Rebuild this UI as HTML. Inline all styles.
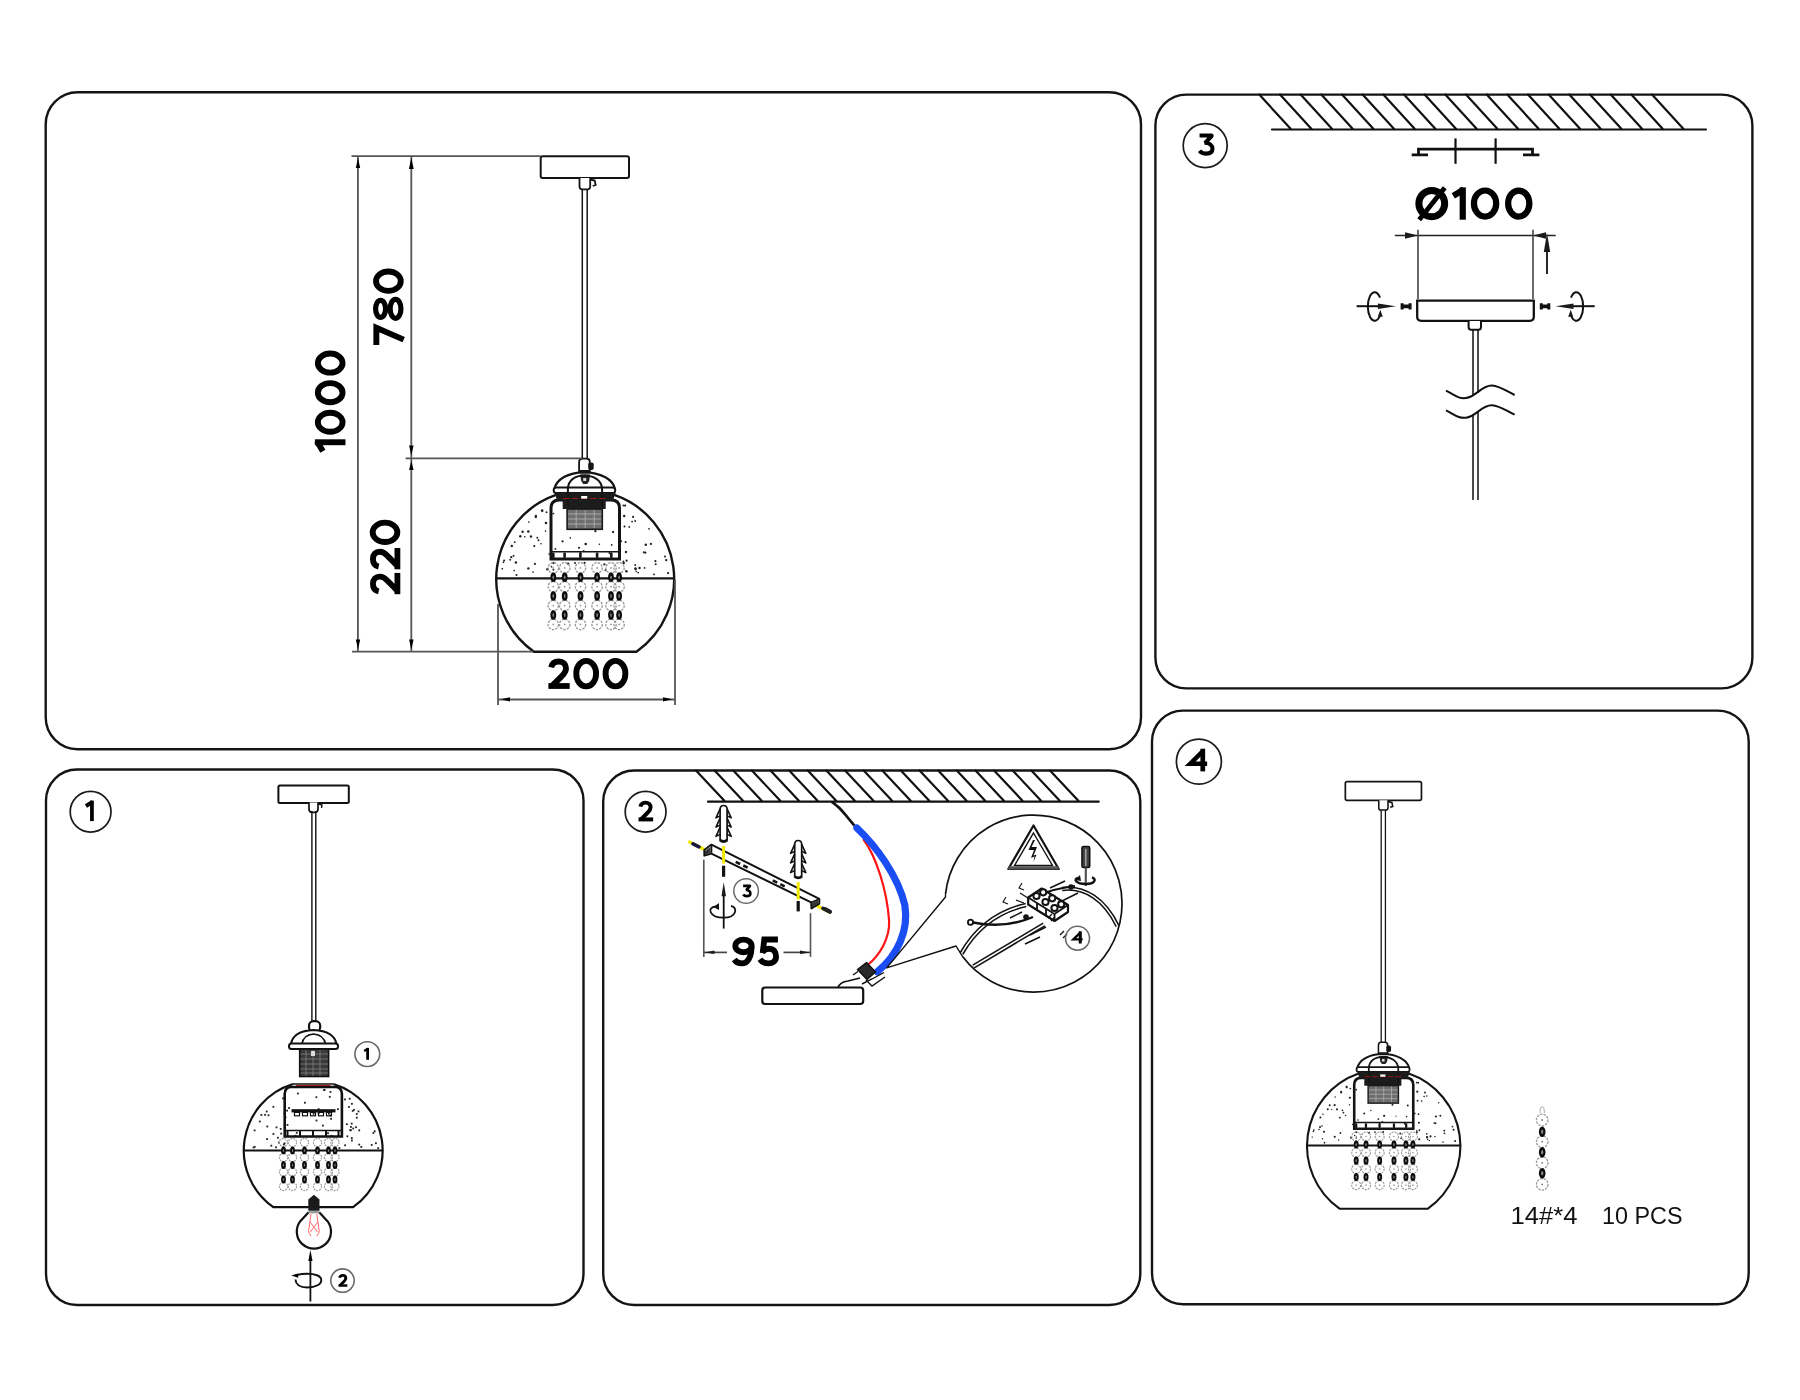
<!DOCTYPE html>
<html><head><meta charset="utf-8"><style>
html,body{margin:0;padding:0;background:#fff;width:1800px;height:1400px;overflow:hidden}
svg{display:block;will-change:transform}
text{font-family:"Liberation Sans",sans-serif}
</style></head><body>
<svg width="1800" height="1400" viewBox="0 0 1800 1400">
<defs><g id="lamp"><rect x="-44.5" y="-422.8" width="88.3" height="21.8" rx="2" fill="#fff" stroke="#141414" stroke-width="2"/><path d="M-5.7,-401 V-392.5 Q-5.7,-389.7 -3,-389.7 H2.3 Q5,-389.7 5,-392.5 V-401" fill="#fff" stroke="#141414" stroke-width="1.8"/><path d="M5,-399.5 L9.5,-398.5 L10.5,-394 L7.5,-393" fill="none" stroke="#141414" stroke-width="1.8"/><line x1="-2.9" y1="-389.7" x2="-2.9" y2="-120.4" stroke="#141414" stroke-width="1.5"/><line x1="2.0" y1="-389.7" x2="2.0" y2="-120.4" stroke="#141414" stroke-width="1.5"/><path d="M-6.1,-108 V-117 Q-6.1,-120.4 -3,-120.4 H1.5 Q4.6,-120.4 4.6,-117 V-108 Z" fill="#fff" stroke="#141414" stroke-width="1.8"/><rect x="3" y="-116.5" width="5.5" height="7.5" rx="2" fill="#141414"/><path d="M-29.1,-84.1 A89,89 0 0 0 -51.3,72.7 L51.3,72.7 A89,89 0 0 0 29.1,-84.1" fill="none" stroke="#141414" stroke-width="2.4"/><line x1="-88.5" y1="-0.6" x2="88.5" y2="-0.6" stroke="#141414" stroke-width="2.2"/><circle cx="-54.2" cy="-42.5" r="1.20" fill="#222"/><circle cx="22.3" cy="-19.8" r="1.00" fill="#222"/><circle cx="82.9" cy="-5.9" r="1.16" fill="#222"/><circle cx="26.5" cy="-34.1" r="0.93" fill="#222"/><circle cx="27.9" cy="-47.0" r="1.16" fill="#222"/><circle cx="58.5" cy="-26.7" r="0.96" fill="#222"/><circle cx="-31.8" cy="-65.4" r="0.97" fill="#222"/><circle cx="-73.9" cy="-21.9" r="1.18" fill="#222"/><circle cx="-17.1" cy="-15.4" r="1.22" fill="#222"/><circle cx="-73.4" cy="-33.0" r="1.21" fill="#222"/><circle cx="47.9" cy="-62.1" r="1.08" fill="#222"/><circle cx="79.8" cy="-22.6" r="1.01" fill="#222"/><circle cx="10.2" cy="-47.8" r="1.15" fill="#222"/><circle cx="39.9" cy="-73.4" r="1.11" fill="#222"/><circle cx="-49.4" cy="-62.1" r="1.22" fill="#222"/><circle cx="81.0" cy="-18.9" r="1.20" fill="#222"/><circle cx="-33.7" cy="-12.3" r="0.86" fill="#222"/><circle cx="-68.7" cy="-3.9" r="0.99" fill="#222"/><circle cx="-49.3" cy="-63.1" r="1.13" fill="#222"/><circle cx="46.9" cy="-57.4" r="0.92" fill="#222"/><circle cx="-70.5" cy="-36.8" r="0.89" fill="#222"/><circle cx="-44.2" cy="-35.3" r="0.81" fill="#222"/><circle cx="70.2" cy="-17.8" r="1.09" fill="#222"/><circle cx="-43.1" cy="-68.6" r="1.27" fill="#222"/><circle cx="41.2" cy="-7.8" r="1.29" fill="#222"/><circle cx="-52.2" cy="-7.0" r="0.87" fill="#222"/><circle cx="65.7" cy="-35.1" r="1.14" fill="#222"/><circle cx="-13.5" cy="-75.6" r="1.01" fill="#222"/><circle cx="16.6" cy="-60.2" r="1.12" fill="#222"/><circle cx="-46.7" cy="-38.7" r="1.00" fill="#222"/><circle cx="60.6" cy="-34.2" r="1.27" fill="#222"/><circle cx="-37.8" cy="-9.7" r="1.29" fill="#222"/><circle cx="-39.7" cy="-47.9" r="0.82" fill="#222"/><circle cx="-22.6" cy="-37.7" r="1.16" fill="#222"/><circle cx="-82.9" cy="-10.3" r="0.86" fill="#222"/><circle cx="34.6" cy="-6.0" r="0.82" fill="#222"/><circle cx="-31.1" cy="-3.1" r="0.94" fill="#222"/><circle cx="40.8" cy="-27.0" r="1.17" fill="#222"/><circle cx="50.4" cy="-9.9" r="1.30" fill="#222"/><circle cx="63.8" cy="-50.2" r="0.86" fill="#222"/><circle cx="50.0" cy="-14.1" r="0.97" fill="#222"/><circle cx="14.2" cy="-34.7" r="0.81" fill="#222"/><circle cx="39.3" cy="-52.5" r="1.07" fill="#222"/><circle cx="40.4" cy="-36.9" r="1.04" fill="#222"/><circle cx="-10.2" cy="-16.1" r="0.99" fill="#222"/><circle cx="-71.6" cy="-23.2" r="0.95" fill="#222"/><circle cx="-34.2" cy="-29.1" r="1.20" fill="#222"/><circle cx="-56.8" cy="-10.6" r="1.22" fill="#222"/><circle cx="-29.8" cy="-30.1" r="0.94" fill="#222"/><circle cx="14.3" cy="-58.4" r="1.00" fill="#222"/><circle cx="-0.6" cy="-16.2" r="1.11" fill="#222"/><circle cx="60.0" cy="-26.4" r="1.18" fill="#222"/><circle cx="-56.9" cy="-47.5" r="1.29" fill="#222"/><circle cx="-38.7" cy="-66.7" r="0.99" fill="#222"/><circle cx="-31.8" cy="-16.0" r="1.15" fill="#222"/><circle cx="35.9" cy="-37.8" r="1.07" fill="#222"/><circle cx="-62.6" cy="-47.2" r="1.20" fill="#222"/><circle cx="-81.7" cy="-16.8" r="0.87" fill="#222"/><circle cx="52.9" cy="-6.4" r="0.89" fill="#222"/><circle cx="-4.8" cy="-26.2" r="0.85" fill="#222"/><circle cx="-39.2" cy="-56.0" r="1.27" fill="#222"/><circle cx="44.1" cy="-52.1" r="0.93" fill="#222"/><circle cx="50.2" cy="-10.6" r="1.04" fill="#222"/><circle cx="-71.0" cy="-8.5" r="0.86" fill="#222"/><circle cx="38.2" cy="-73.5" r="0.96" fill="#222"/><circle cx="51.0" cy="-7.5" r="0.81" fill="#222"/><circle cx="-6.2" cy="-31.2" r="1.08" fill="#222"/><circle cx="38.2" cy="-17.7" r="0.87" fill="#222"/><circle cx="24.4" cy="-25.9" r="1.11" fill="#222"/><circle cx="68.8" cy="-4.6" r="0.94" fill="#222"/><circle cx="50.0" cy="-58.0" r="0.91" fill="#222"/><circle cx="70.5" cy="-14.7" r="1.04" fill="#222"/><circle cx="-81.1" cy="-18.5" r="0.98" fill="#222"/><circle cx="-75.0" cy="-19.2" r="0.93" fill="#222"/><circle cx="-56.3" cy="-56.9" r="0.83" fill="#222"/><circle cx="-60.4" cy="-42.2" r="0.83" fill="#222"/><circle cx="38.5" cy="-16.0" r="1.25" fill="#222"/><circle cx="-47.9" cy="-41.3" r="0.95" fill="#222"/><circle cx="-36.1" cy="-25.0" r="0.84" fill="#222"/><circle cx="59.4" cy="-11.1" r="0.89" fill="#222"/><circle cx="-50.2" cy="-15.1" r="1.04" fill="#222"/><circle cx="0.5" cy="-35.0" r="1.30" fill="#222"/><circle cx="-1.5" cy="-28.0" r="0.90" fill="#222"/><circle cx="54.3" cy="-11.1" r="1.23" fill="#222"/><circle cx="-4.0" cy="-58.3" r="1.04" fill="#222"/><circle cx="20.3" cy="-9.1" r="1.01" fill="#222"/><circle cx="-64.9" cy="-42.7" r="1.20" fill="#222"/><circle cx="-42.9" cy="-68.0" r="1.00" fill="#222"/><circle cx="-14.9" cy="-41.1" r="0.83" fill="#222"/><circle cx="-50.9" cy="-32.9" r="1.08" fill="#222"/><circle cx="19.2" cy="-14.6" r="1.13" fill="#222"/><circle cx="41.4" cy="-18.3" r="1.11" fill="#222"/><circle cx="-31.8" cy="-9.3" r="0.94" fill="#222"/><circle cx="39.0" cy="-63.0" r="1.27" fill="#222"/><circle cx="-69.3" cy="-16.6" r="1.23" fill="#222"/><path d="M-30.9,-89.6 C-29,-100 -17,-106.5 -0.9,-106.7 C15,-106.5 28,-100 29.9,-89.6" fill="#fff" stroke="#141414" stroke-width="2.2"/><rect x="-31.5" y="-91.6" width="61.5" height="5.6" rx="2.5" fill="#fff" stroke="#141414" stroke-width="2"/><path d="M-5,-104.5 L5,-104.5 L4,-98 L2,-95 L-2,-95 L-4,-98 Z" fill="#222"/><rect x="-2" y="-101" width="3" height="3" fill="#ddd"/><path d="M-34.2,-20 V-71 Q-34.2,-79 -26,-79 H26 Q34.3,-79 34.3,-71 V-20 Z" fill="none" stroke="#141414" stroke-width="3"/><line x1="-34" y1="-27.3" x2="34" y2="-27.3" stroke="#141414" stroke-width="1.6"/><rect x="-33.2" y="-26.5" width="2.6" height="5.5" rx="1" fill="#141414"/><rect x="-21.9" y="-26.5" width="2.6" height="5.5" rx="1" fill="#141414"/><rect x="-6.1" y="-26.5" width="2.6" height="5.5" rx="1" fill="#141414"/><rect x="10.6" y="-26.5" width="2.6" height="5.5" rx="1" fill="#141414"/><rect x="24.8" y="-26.5" width="2.6" height="5.5" rx="1" fill="#141414"/><path d="M-30.5,-86 H30.3 L28,-79 H20.5 V-70 H-22.5 V-79 H-28.3 Z" fill="#1c1c1c"/><path d="M-17.3,-73 V-90 C-17,-99 -10,-103.5 -0.9,-103.5 C8,-103.5 16.5,-99 16.9,-90 V-73" fill="none" stroke="#141414" stroke-width="2"/><line x1="-22" y1="-80.5" x2="20" y2="-80.5" stroke="#b01818" stroke-width="0.9" stroke-dasharray="6 3"/><rect x="-4" y="-83" width="6" height="2.6" fill="#fff"/><rect x="-18.1" y="-70" width="35.2" height="20.3" fill="#6e6e6e" stroke="#1a1a1a" stroke-width="1.6"/><line x1="-17" y1="-65" x2="16" y2="-65" stroke="#b8b8b8" stroke-width="0.8"/><line x1="-17" y1="-60" x2="16" y2="-60" stroke="#b8b8b8" stroke-width="0.8"/><line x1="-17" y1="-55" x2="16" y2="-55" stroke="#b8b8b8" stroke-width="0.8"/><line x1="-9" y1="-69" x2="-9" y2="-51" stroke="#b8b8b8" stroke-width="0.8"/><line x1="0" y1="-69" x2="0" y2="-51" stroke="#b8b8b8" stroke-width="0.8"/><line x1="9" y1="-69" x2="9" y2="-51" stroke="#b8b8b8" stroke-width="0.8"/><circle cx="-31.9" cy="-11.1" r="5.2" fill="none" stroke="#999" stroke-width="1.3" stroke-dasharray="2.4 1.1"/><circle cx="-31.9" cy="-11.1" r="0.9" fill="#999"/><circle cx="-31.9" cy="7.7" r="5.2" fill="none" stroke="#999" stroke-width="1.3" stroke-dasharray="2.4 1.1"/><circle cx="-31.9" cy="7.7" r="0.9" fill="#999"/><circle cx="-31.9" cy="26.6" r="5.2" fill="none" stroke="#999" stroke-width="1.3" stroke-dasharray="2.4 1.1"/><circle cx="-31.9" cy="26.6" r="0.9" fill="#999"/><circle cx="-31.9" cy="45.4" r="5.2" fill="none" stroke="#999" stroke-width="1.3" stroke-dasharray="2.4 1.1"/><circle cx="-31.9" cy="45.4" r="0.9" fill="#999"/><ellipse cx="-31.9" cy="-1.7" rx="2.9" ry="4.7" fill="#0c0c0c"/><ellipse cx="-31.9" cy="-1.7" rx="0.9" ry="1.9" fill="#7a7a7a"/><ellipse cx="-31.9" cy="17" rx="2.9" ry="4.7" fill="#0c0c0c"/><ellipse cx="-31.9" cy="17" rx="0.9" ry="1.9" fill="#7a7a7a"/><ellipse cx="-31.9" cy="36" rx="2.9" ry="4.7" fill="#0c0c0c"/><ellipse cx="-31.9" cy="36" rx="0.9" ry="1.9" fill="#7a7a7a"/><circle cx="-20.5" cy="-11.1" r="5.2" fill="none" stroke="#999" stroke-width="1.3" stroke-dasharray="2.4 1.1"/><circle cx="-20.5" cy="-11.1" r="0.9" fill="#999"/><circle cx="-20.5" cy="7.7" r="5.2" fill="none" stroke="#999" stroke-width="1.3" stroke-dasharray="2.4 1.1"/><circle cx="-20.5" cy="7.7" r="0.9" fill="#999"/><circle cx="-20.5" cy="26.6" r="5.2" fill="none" stroke="#999" stroke-width="1.3" stroke-dasharray="2.4 1.1"/><circle cx="-20.5" cy="26.6" r="0.9" fill="#999"/><circle cx="-20.5" cy="45.4" r="5.2" fill="none" stroke="#999" stroke-width="1.3" stroke-dasharray="2.4 1.1"/><circle cx="-20.5" cy="45.4" r="0.9" fill="#999"/><ellipse cx="-20.5" cy="-1.7" rx="2.9" ry="4.7" fill="#0c0c0c"/><ellipse cx="-20.5" cy="-1.7" rx="0.9" ry="1.9" fill="#7a7a7a"/><ellipse cx="-20.5" cy="17" rx="2.9" ry="4.7" fill="#0c0c0c"/><ellipse cx="-20.5" cy="17" rx="0.9" ry="1.9" fill="#7a7a7a"/><ellipse cx="-20.5" cy="36" rx="2.9" ry="4.7" fill="#0c0c0c"/><ellipse cx="-20.5" cy="36" rx="0.9" ry="1.9" fill="#7a7a7a"/><circle cx="-4.7" cy="-11.1" r="5.2" fill="none" stroke="#999" stroke-width="1.3" stroke-dasharray="2.4 1.1"/><circle cx="-4.7" cy="-11.1" r="0.9" fill="#999"/><circle cx="-4.7" cy="7.7" r="5.2" fill="none" stroke="#999" stroke-width="1.3" stroke-dasharray="2.4 1.1"/><circle cx="-4.7" cy="7.7" r="0.9" fill="#999"/><circle cx="-4.7" cy="26.6" r="5.2" fill="none" stroke="#999" stroke-width="1.3" stroke-dasharray="2.4 1.1"/><circle cx="-4.7" cy="26.6" r="0.9" fill="#999"/><circle cx="-4.7" cy="45.4" r="5.2" fill="none" stroke="#999" stroke-width="1.3" stroke-dasharray="2.4 1.1"/><circle cx="-4.7" cy="45.4" r="0.9" fill="#999"/><ellipse cx="-4.7" cy="-1.7" rx="2.9" ry="4.7" fill="#0c0c0c"/><ellipse cx="-4.7" cy="-1.7" rx="0.9" ry="1.9" fill="#7a7a7a"/><ellipse cx="-4.7" cy="17" rx="2.9" ry="4.7" fill="#0c0c0c"/><ellipse cx="-4.7" cy="17" rx="0.9" ry="1.9" fill="#7a7a7a"/><ellipse cx="-4.7" cy="36" rx="2.9" ry="4.7" fill="#0c0c0c"/><ellipse cx="-4.7" cy="36" rx="0.9" ry="1.9" fill="#7a7a7a"/><circle cx="11.9" cy="-11.1" r="5.2" fill="none" stroke="#999" stroke-width="1.3" stroke-dasharray="2.4 1.1"/><circle cx="11.9" cy="-11.1" r="0.9" fill="#999"/><circle cx="11.9" cy="7.7" r="5.2" fill="none" stroke="#999" stroke-width="1.3" stroke-dasharray="2.4 1.1"/><circle cx="11.9" cy="7.7" r="0.9" fill="#999"/><circle cx="11.9" cy="26.6" r="5.2" fill="none" stroke="#999" stroke-width="1.3" stroke-dasharray="2.4 1.1"/><circle cx="11.9" cy="26.6" r="0.9" fill="#999"/><circle cx="11.9" cy="45.4" r="5.2" fill="none" stroke="#999" stroke-width="1.3" stroke-dasharray="2.4 1.1"/><circle cx="11.9" cy="45.4" r="0.9" fill="#999"/><ellipse cx="11.9" cy="-1.7" rx="2.9" ry="4.7" fill="#0c0c0c"/><ellipse cx="11.9" cy="-1.7" rx="0.9" ry="1.9" fill="#7a7a7a"/><ellipse cx="11.9" cy="17" rx="2.9" ry="4.7" fill="#0c0c0c"/><ellipse cx="11.9" cy="17" rx="0.9" ry="1.9" fill="#7a7a7a"/><ellipse cx="11.9" cy="36" rx="2.9" ry="4.7" fill="#0c0c0c"/><ellipse cx="11.9" cy="36" rx="0.9" ry="1.9" fill="#7a7a7a"/><circle cx="25.8" cy="-11.1" r="5.2" fill="none" stroke="#999" stroke-width="1.3" stroke-dasharray="2.4 1.1"/><circle cx="25.8" cy="-11.1" r="0.9" fill="#999"/><circle cx="25.8" cy="7.7" r="5.2" fill="none" stroke="#999" stroke-width="1.3" stroke-dasharray="2.4 1.1"/><circle cx="25.8" cy="7.7" r="0.9" fill="#999"/><circle cx="25.8" cy="26.6" r="5.2" fill="none" stroke="#999" stroke-width="1.3" stroke-dasharray="2.4 1.1"/><circle cx="25.8" cy="26.6" r="0.9" fill="#999"/><circle cx="25.8" cy="45.4" r="5.2" fill="none" stroke="#999" stroke-width="1.3" stroke-dasharray="2.4 1.1"/><circle cx="25.8" cy="45.4" r="0.9" fill="#999"/><ellipse cx="25.8" cy="-1.7" rx="2.9" ry="4.7" fill="#0c0c0c"/><ellipse cx="25.8" cy="-1.7" rx="0.9" ry="1.9" fill="#7a7a7a"/><ellipse cx="25.8" cy="17" rx="2.9" ry="4.7" fill="#0c0c0c"/><ellipse cx="25.8" cy="17" rx="0.9" ry="1.9" fill="#7a7a7a"/><ellipse cx="25.8" cy="36" rx="2.9" ry="4.7" fill="#0c0c0c"/><ellipse cx="25.8" cy="36" rx="0.9" ry="1.9" fill="#7a7a7a"/><circle cx="33.9" cy="-11.1" r="5.2" fill="none" stroke="#999" stroke-width="1.3" stroke-dasharray="2.4 1.1"/><circle cx="33.9" cy="-11.1" r="0.9" fill="#999"/><circle cx="33.9" cy="7.7" r="5.2" fill="none" stroke="#999" stroke-width="1.3" stroke-dasharray="2.4 1.1"/><circle cx="33.9" cy="7.7" r="0.9" fill="#999"/><circle cx="33.9" cy="26.6" r="5.2" fill="none" stroke="#999" stroke-width="1.3" stroke-dasharray="2.4 1.1"/><circle cx="33.9" cy="26.6" r="0.9" fill="#999"/><circle cx="33.9" cy="45.4" r="5.2" fill="none" stroke="#999" stroke-width="1.3" stroke-dasharray="2.4 1.1"/><circle cx="33.9" cy="45.4" r="0.9" fill="#999"/><ellipse cx="33.9" cy="-1.7" rx="2.9" ry="4.7" fill="#0c0c0c"/><ellipse cx="33.9" cy="-1.7" rx="0.9" ry="1.9" fill="#7a7a7a"/><ellipse cx="33.9" cy="17" rx="2.9" ry="4.7" fill="#0c0c0c"/><ellipse cx="33.9" cy="17" rx="0.9" ry="1.9" fill="#7a7a7a"/><ellipse cx="33.9" cy="36" rx="2.9" ry="4.7" fill="#0c0c0c"/><ellipse cx="33.9" cy="36" rx="0.9" ry="1.9" fill="#7a7a7a"/></g></defs>
<rect x="45.7" y="92.3" width="1095.3" height="657.0" rx="32" ry="32" fill="none" stroke="#141414" stroke-width="2.4"/>
<rect x="1155.4" y="94.6" width="597.0" height="593.8" rx="31" ry="31" fill="none" stroke="#141414" stroke-width="2.4"/>
<rect x="46" y="769.5" width="537.5" height="535.5" rx="31" ry="31" fill="none" stroke="#141414" stroke-width="2.4"/>
<rect x="603.2" y="770.5" width="537.1" height="534.5" rx="31" ry="31" fill="none" stroke="#141414" stroke-width="2.4"/>
<rect x="1152" y="710.6" width="596.7" height="593.7" rx="31" ry="31" fill="none" stroke="#141414" stroke-width="2.4"/>
<use href="#lamp" transform="translate(585.2,579)"/>
<line x1="351.5" y1="156.2" x2="540.7" y2="156.2" stroke="#555555" stroke-width="1.8" />
<line x1="357.9" y1="156.5" x2="357.9" y2="651.5" stroke="#555555" stroke-width="1.8" />
<line x1="411.3" y1="156.5" x2="411.3" y2="651.5" stroke="#555555" stroke-width="1.8" />
<line x1="405.6" y1="458.3" x2="582" y2="458.3" stroke="#555555" stroke-width="1.8" />
<line x1="352" y1="651.6" x2="533" y2="651.6" stroke="#555555" stroke-width="1.8" />
<line x1="498" y1="604" x2="498" y2="705" stroke="#555555" stroke-width="1.8" />
<line x1="675" y1="580" x2="675" y2="705" stroke="#555555" stroke-width="1.8" />
<line x1="498" y1="699.5" x2="675" y2="699.5" stroke="#555555" stroke-width="1.8" />
<path d="M358.0,158.0 L360.2,168.0 L355.8,168.0 Z" fill="#000"/>
<path d="M358.0,649.5 L355.8,639.5 L360.2,639.5 Z" fill="#000"/>
<path d="M411.3,158.0 L413.7,169.0 L408.9,169.0 Z" fill="#000"/>
<path d="M411.3,455.5 L409.1,445.5 L413.6,445.5 Z" fill="#000"/>
<path d="M411.3,461.0 L413.6,470.0 L409.1,470.0 Z" fill="#000"/>
<path d="M411.3,649.5 L409.1,639.5 L413.6,639.5 Z" fill="#000"/>
<path d="M501.0,699.3 L510.0,697.2 L510.0,701.4 Z" fill="#000"/>
<path d="M672.0,699.3 L663.0,701.4 L663.0,697.2 Z" fill="#000"/>
<g transform="translate(345.5,452.6) rotate(-90) scale(1.0000,1.0000)" fill="none" stroke="#000" stroke-width="5.9" stroke-linejoin="miter"><g transform="translate(0.00,0)"><path d="M10.35,-30.6 V0"/><path d="M11.35,-28.6 L1.4,-22.6" stroke-width="6.0"/></g><g transform="translate(17.87,0)"><path d="M2.95,-15.30 A9.55,12.35 0 1 0 22.05,-15.30 A9.55,12.35 0 1 0 2.95,-15.30 Z"/></g><g transform="translate(47.44,0)"><path d="M2.95,-15.30 A9.55,12.35 0 1 0 22.05,-15.30 A9.55,12.35 0 1 0 2.95,-15.30 Z"/></g><g transform="translate(77.01,0)"><path d="M2.95,-15.30 A9.55,12.35 0 1 0 22.05,-15.30 A9.55,12.35 0 1 0 2.95,-15.30 Z"/></g></g>
<g transform="translate(403.7,345) rotate(-90) scale(1.0000,1.0000)" fill="none" stroke="#000" stroke-width="5.9" stroke-linejoin="miter"><g transform="translate(0.00,0)"><path d="M0,-27.35 L17.2,-27.35 L5.4,0"/></g><g transform="translate(23.95,0)"><path d="M3.75,-23.10 A8.50,5.00 0 1 0 20.75,-23.10 A8.50,5.00 0 1 0 3.75,-23.10 Z M2.75,-8.15 A9.50,5.40 0 1 0 21.75,-8.15 A9.50,5.40 0 1 0 2.75,-8.15 Z" stroke-width="5.2"/></g><g transform="translate(51.20,0)"><path d="M2.95,-15.30 A9.70,12.35 0 1 0 22.35,-15.30 A9.70,12.35 0 1 0 2.95,-15.30 Z"/></g></g>
<g transform="translate(400.3,594.8) rotate(-90) scale(1.0000,1.0000)" fill="none" stroke="#000" stroke-width="5.9" stroke-linejoin="miter"><g transform="translate(0.00,0)"><path d="M3.4,-21.6 C4.4,-26.2 7.6,-27.35 11.0,-27.35 C15.4,-27.35 18.2,-24.6 18.2,-20.6 C18.2,-17.4 16.8,-15.4 13.8,-12.6 L3.8,-2.6" stroke-linejoin="round"/><rect x="0.6" y="-5.8" width="21.3" height="5.8" fill="#000" stroke="none"/></g><g transform="translate(24.90,0)"><path d="M3.4,-21.6 C4.4,-26.2 7.6,-27.35 11.0,-27.35 C15.4,-27.35 18.2,-24.6 18.2,-20.6 C18.2,-17.4 16.8,-15.4 13.8,-12.6 L3.8,-2.6" stroke-linejoin="round"/><rect x="0.6" y="-5.8" width="21.3" height="5.8" fill="#000" stroke="none"/></g><g transform="translate(49.80,0)"><path d="M2.95,-15.30 A9.70,12.35 0 1 0 22.35,-15.30 A9.70,12.35 0 1 0 2.95,-15.30 Z"/></g></g>
<g transform="translate(547.8,688.9) scale(1.0000,1.0000)" fill="none" stroke="#000" stroke-width="5.9" stroke-linejoin="miter"><g transform="translate(0.00,0)"><path d="M3.4,-21.6 C4.4,-26.2 7.6,-27.35 11.0,-27.35 C15.4,-27.35 18.2,-24.6 18.2,-20.6 C18.2,-17.4 16.8,-15.4 13.8,-12.6 L3.8,-2.6" stroke-linejoin="round"/><rect x="0.6" y="-5.8" width="21.3" height="5.8" fill="#000" stroke="none"/></g><g transform="translate(25.55,0)"><path d="M2.95,-15.30 A9.88,12.35 0 1 0 22.70,-15.30 A9.88,12.35 0 1 0 2.95,-15.30 Z"/></g><g transform="translate(54.85,0)"><path d="M2.95,-15.30 A9.88,12.35 0 1 0 22.70,-15.30 A9.88,12.35 0 1 0 2.95,-15.30 Z"/></g></g>
<circle cx="1205.2" cy="145.6" r="22" fill="none" stroke="#1a1a1a" stroke-width="1.7"/>
<g transform="translate(1197.9,156.1) scale(0.7549,0.7549)" fill="none" stroke="#000" stroke-width="5.4" stroke-linejoin="miter"><g transform="translate(0.00,0)"><path d="M2.2,-27.35 L17.6,-27.35 Q18.6,-27.35 18.0,-26.5 L9.4,-17.2"/><path d="M8.6,-17.6 C15.6,-17.8 19.3,-14.2 19.3,-9.6 C19.3,-4.8 15.4,-3.25 11.0,-3.25 C7.2,-3.25 4.2,-4.6 2.2,-7.2"/></g></g>
<circle cx="90.6" cy="811.7" r="20.4" fill="none" stroke="#1a1a1a" stroke-width="1.7"/>
<g transform="translate(85,821.1) scale(0.6699,0.6699)" fill="none" stroke="#000" stroke-width="5.6" stroke-linejoin="miter"><g transform="translate(0.00,0)"><path d="M10.35,-30.6 V0"/><path d="M11.35,-28.6 L1.4,-22.6" stroke-width="6.0"/></g></g>
<circle cx="645.6" cy="811.7" r="20.4" fill="none" stroke="#1a1a1a" stroke-width="1.7"/>
<g transform="translate(638.1,821.4) scale(0.6863,0.6863)" fill="none" stroke="#000" stroke-width="5.8" stroke-linejoin="miter"><g transform="translate(0.00,0)"><path d="M3.4,-21.6 C4.4,-26.2 7.6,-27.35 11.0,-27.35 C15.4,-27.35 18.2,-24.6 18.2,-20.6 C18.2,-17.4 16.8,-15.4 13.8,-12.6 L3.8,-2.6" stroke-linejoin="round"/><rect x="0.6" y="-5.8" width="21.3" height="5.8" fill="#000" stroke="none"/></g></g>
<circle cx="1198.9" cy="761.6" r="22.5" fill="none" stroke="#1a1a1a" stroke-width="1.7"/>
<g transform="translate(1187.5,771.4) scale(0.7418,0.7418)" fill="none" stroke="#000" stroke-width="6.4" stroke-linejoin="miter"><g transform="translate(0.00,0)"><path d="M20.6,-30.6 V0"/><path d="M21.5,-28.0 L3.5,-10.2 L26.5,-10.2" stroke-width="6.0"/></g></g>
<path d="M1259.3,94.6 L1291.3,129.5 M1280.0,94.6 L1312.0,129.5 M1300.6,94.6 L1332.6,129.5 M1321.3,94.6 L1353.3,129.5 M1342.0,94.6 L1374.0,129.5 M1362.6,94.6 L1394.6,129.5 M1383.3,94.6 L1415.3,129.5 M1404.0,94.6 L1436.0,129.5 M1424.6,94.6 L1456.6,129.5 M1445.3,94.6 L1477.3,129.5 M1466.0,94.6 L1498.0,129.5 M1486.7,94.6 L1518.7,129.5 M1507.3,94.6 L1539.3,129.5 M1528.0,94.6 L1560.0,129.5 M1548.7,94.6 L1580.7,129.5 M1569.3,94.6 L1601.3,129.5 M1590.0,94.6 L1622.0,129.5 M1610.7,94.6 L1642.7,129.5 M1631.3,94.6 L1663.3,129.5 M1652.0,94.6 L1684.0,129.5 M1272,129.5 L1706,129.5" fill="none" stroke="#111" stroke-width="2.2" stroke-linecap="round"/>
<path d="M1411.7,154.8 H1428 M1418.5,155 V149.2 H1532.5 V155 M1523,154.8 H1539.4" fill="none" stroke="#111" stroke-width="2.8"/>
<line x1="1455.5" y1="138.4" x2="1455.5" y2="163.8" stroke="#111" stroke-width="2.2" />
<line x1="1495.6" y1="138.4" x2="1495.6" y2="163.8" stroke="#111" stroke-width="2.2" />
<g transform="translate(1415.4,219.7) scale(1.0556,1.0556)" fill="none" stroke="#000" stroke-width="5.9" stroke-linejoin="miter"><g transform="translate(0.00,0)"><path d="M3.25,-15.30 A12.25,12.45 0 1 0 27.75,-15.30 A12.25,12.45 0 1 0 3.25,-15.30 Z" stroke-width="6.6"/><path d="M3.6,0.0 L27.8,-30.2" stroke-width="4.6"/></g><g transform="translate(34.50,0)"><path d="M10.35,-30.6 V0"/><path d="M11.35,-28.6 L1.4,-22.6" stroke-width="6.0"/></g><g transform="translate(52.50,0)"><path d="M2.95,-15.30 A10.55,12.35 0 1 0 24.05,-15.30 A10.55,12.35 0 1 0 2.95,-15.30 Z"/></g><g transform="translate(84.90,0)"><path d="M2.95,-15.30 A10.05,12.35 0 1 0 23.05,-15.30 A10.05,12.35 0 1 0 2.95,-15.30 Z"/></g></g>
<line x1="1394.8" y1="235.5" x2="1555.7" y2="235.5" stroke="#222" stroke-width="1.6" />
<path d="M1418.0,235.5 L1405.0,238.8 L1405.0,232.2 Z" fill="#1a1a1a"/>
<path d="M1533.0,235.5 L1546.0,232.2 L1546.0,238.8 Z" fill="#1a1a1a"/>
<line x1="1418" y1="229.7" x2="1418" y2="299" stroke="#444" stroke-width="1.6" />
<line x1="1533" y1="229.7" x2="1533" y2="299" stroke="#444" stroke-width="1.6" />
<line x1="1547" y1="274" x2="1547" y2="250" stroke="#111" stroke-width="1.8" />
<path d="M1547.0,233.0 L1550.2,252.0 L1543.8,252.0 Z" fill="#1a1a1a"/>
<path d="M1417.2,300.6 H1533.8 V316.8 Q1533.8,320.8 1529.8,320.8 H1421.2 Q1417.2,320.8 1417.2,316.8 Z" fill="#fff" stroke="#111" stroke-width="2.3"/>
<path d="M1468.6,321 V327 Q1468.6,329.7 1471,329.7 H1478.6 Q1481,329.7 1481,327 V321" fill="#fff" stroke="#111" stroke-width="2"/>
<path d="M1473,330 V396 M1478,330 V393 M1473,414 V500 M1478,412 V500" fill="none" stroke="#111" stroke-width="1.5"/>
<path d="M1446,390.6 C1455,395 1458,399 1466,398 C1476,397 1482,385 1492,385.5 C1500,386 1506,391 1514.6,395" fill="none" stroke="#111" stroke-width="2"/>
<path d="M1446,410.3 C1455,414.7 1458,418.7 1466,417.7 C1476,416.7 1482,404.7 1492,405.2 C1500,405.7 1506,410.7 1514.6,414.7" fill="none" stroke="#111" stroke-width="2"/>
<path d="M1400.6,303.3 h3 v1.3 h5 v-1.3 h3 v6.2 h-3 v-1.3 h-5 v1.3 h-3 Z" fill="#111"/>
<path d="M1539.8,303.3 h3 v1.3 h4.5 v-1.3 h3 v6.2 h-3 v-1.3 h-4.5 v1.3 h-3 Z" fill="#111"/>
<line x1="1356.6" y1="306.2" x2="1380" y2="306.2" stroke="#111" stroke-width="2" />
<path d="M1395.9,306.2 L1377.9,309.0 L1377.9,303.4 Z" fill="#1a1a1a"/>
<path d="M1380,297.7 A6.8,14.3 0 1 0 1380.2,314.7" fill="none" stroke="#111" stroke-width="2"/>
<path d="M1380.3,309.7 L1382.8,316.7 L1377.8,316.7 Z" fill="#1a1a1a"/>
<line x1="1571" y1="306.2" x2="1594.7" y2="306.2" stroke="#111" stroke-width="2" />
<path d="M1555.5,306.2 L1573.5,303.4 L1573.5,309.0 Z" fill="#1a1a1a"/>
<path d="M1571,297.7 A6.8,14.3 0 1 1 1570.8,314.7" fill="none" stroke="#111" stroke-width="2"/>
<path d="M1570.7,309.7 L1573.2,316.7 L1568.2,316.7 Z" fill="#1a1a1a"/>
<use href="#lamp" transform="translate(1383.7,1146) scale(0.862)"/>
<circle cx="1542.2" cy="1120" r="5.8" fill="none" stroke="#999" stroke-width="1.3" stroke-dasharray="2.4 1.1"/>
<circle cx="1542.2" cy="1120" r="0.9" fill="#777"/>
<circle cx="1542.2" cy="1141.7" r="5.8" fill="none" stroke="#999" stroke-width="1.3" stroke-dasharray="2.4 1.1"/>
<circle cx="1542.2" cy="1141.7" r="0.9" fill="#777"/>
<circle cx="1542.2" cy="1162.8" r="5.8" fill="none" stroke="#999" stroke-width="1.3" stroke-dasharray="2.4 1.1"/>
<circle cx="1542.2" cy="1162.8" r="0.9" fill="#777"/>
<circle cx="1542.2" cy="1184.4" r="5.8" fill="none" stroke="#999" stroke-width="1.3" stroke-dasharray="2.4 1.1"/>
<circle cx="1542.2" cy="1184.4" r="0.9" fill="#777"/>
<ellipse cx="1542.2" cy="1131.7" rx="3.3" ry="5.3" fill="#0c0c0c"/>
<ellipse cx="1542.2" cy="1131.7" rx="1.1" ry="2.3" fill="#888"/>
<ellipse cx="1542.2" cy="1152.2" rx="3.3" ry="5.3" fill="#0c0c0c"/>
<ellipse cx="1542.2" cy="1152.2" rx="1.1" ry="2.3" fill="#888"/>
<ellipse cx="1542.2" cy="1173.3" rx="3.3" ry="5.3" fill="#0c0c0c"/>
<ellipse cx="1542.2" cy="1173.3" rx="1.1" ry="2.3" fill="#888"/>
<path d="M1540,1113 Q1540,1106.7 1542.2,1106.7 Q1544.4,1106.7 1544.4,1113" fill="none" stroke="#aaa" stroke-width="1"/>
<text x="1510.5" y="1223.8" font-size="24.5" fill="#111" textLength="67" lengthAdjust="spacingAndGlyphs">14#*4</text>
<text x="1602" y="1223.8" font-size="24.5" fill="#111" textLength="80.5" lengthAdjust="spacingAndGlyphs">10 PCS</text>
<rect x="278.4" y="785.4" width="70.4" height="17.6" rx="1.5" fill="#fff" stroke="#111" stroke-width="2"/>
<path d="M309,802.5 V809 Q309,812.3 312,812.3 H315 Q318,812.3 318,809 V802.5" fill="#fff" stroke="#111" stroke-width="1.7"/>
<path d="M318.5,804 L322,805 L321.5,808" fill="none" stroke="#111" stroke-width="1.4"/>
<path d="M311.9,811 V1022 M315.8,811 V1022" fill="none" stroke="#111" stroke-width="1.4"/>
<rect x="309" y="1021.2" width="11.2" height="10.5" rx="4.5" fill="#fff" stroke="#111" stroke-width="2.2"/>
<path d="M291,1044 Q293,1031 313.6,1030 Q334,1031 336.5,1044" fill="#fff" stroke="#111" stroke-width="2"/>
<path d="M302,1044 Q303,1035 313.6,1034 Q324,1035 325.5,1044" fill="none" stroke="#111" stroke-width="1.6"/>
<rect x="289" y="1043.5" width="49" height="5.5" rx="2.5" fill="#fff" stroke="#111" stroke-width="2"/>
<rect x="299.7" y="1049" width="28.9" height="27.5" fill="#3a3a3a" stroke="#111" stroke-width="1.6"/>
<line x1="300.5" y1="1054" x2="328" y2="1054" stroke="#8a8a8a" stroke-width="0.7" />
<line x1="300.5" y1="1059" x2="328" y2="1059" stroke="#8a8a8a" stroke-width="0.7" />
<line x1="300.5" y1="1064" x2="328" y2="1064" stroke="#8a8a8a" stroke-width="0.7" />
<line x1="300.5" y1="1069" x2="328" y2="1069" stroke="#8a8a8a" stroke-width="0.7" />
<line x1="300.5" y1="1073" x2="328" y2="1073" stroke="#8a8a8a" stroke-width="0.7" />
<line x1="306" y1="1050" x2="306" y2="1076" stroke="#8a8a8a" stroke-width="0.7" />
<line x1="313" y1="1050" x2="313" y2="1076" stroke="#8a8a8a" stroke-width="0.7" />
<line x1="320" y1="1050" x2="320" y2="1076" stroke="#8a8a8a" stroke-width="0.7" />
<rect x="311" y="1051" width="4" height="5" fill="#ddd"/>
<path d="M293.0,1084 A69.4,69.4 0 0 0 273.3,1207.2 L353.1,1207.2 A69.4,69.4 0 0 0 333.4,1084" fill="none" stroke="#111" stroke-width="2.2"/>
<line x1="293.0158478008119" y1="1084" x2="333.38415219918807" y2="1084" stroke="#111" stroke-width="1.6" />
<line x1="296.0158478008119" y1="1085.5" x2="330.38415219918807" y2="1085.5" stroke="#d02020" stroke-width="1.2" />
<line x1="244.2" y1="1150.4" x2="382.2" y2="1150.4" stroke="#111" stroke-width="2" />
<rect x="372.5" y="1132.1" width="1.8" height="1.8" fill="#222"/>
<rect x="323.1" y="1089.2" width="1.8" height="1.8" fill="#222"/>
<rect x="283.7" y="1142.5" width="1.8" height="1.8" fill="#222"/>
<rect x="348.8" y="1097.8" width="1.8" height="1.8" fill="#222"/>
<rect x="328.9" y="1095.9" width="1.8" height="1.8" fill="#222"/>
<rect x="275.1" y="1146.4" width="1.8" height="1.8" fill="#222"/>
<rect x="286.2" y="1109.7" width="1.8" height="1.8" fill="#222"/>
<rect x="286.6" y="1124.0" width="1.8" height="1.8" fill="#222"/>
<rect x="337.0" y="1108.3" width="1.8" height="1.8" fill="#222"/>
<rect x="355.9" y="1116.8" width="1.8" height="1.8" fill="#222"/>
<rect x="253.8" y="1145.9" width="1.8" height="1.8" fill="#222"/>
<rect x="351.8" y="1110.0" width="1.8" height="1.8" fill="#222"/>
<rect x="323.7" y="1088.9" width="1.8" height="1.8" fill="#222"/>
<rect x="270.4" y="1144.8" width="1.8" height="1.8" fill="#222"/>
<rect x="272.5" y="1133.0" width="1.8" height="1.8" fill="#222"/>
<rect x="370.8" y="1144.0" width="1.8" height="1.8" fill="#222"/>
<rect x="346.5" y="1135.4" width="1.8" height="1.8" fill="#222"/>
<rect x="288.1" y="1107.1" width="1.8" height="1.8" fill="#222"/>
<rect x="338.5" y="1147.2" width="1.8" height="1.8" fill="#222"/>
<rect x="252.7" y="1146.6" width="1.8" height="1.8" fill="#222"/>
<rect x="317.7" y="1112.3" width="1.8" height="1.8" fill="#222"/>
<rect x="344.2" y="1144.4" width="1.8" height="1.8" fill="#222"/>
<rect x="330.7" y="1134.9" width="1.8" height="1.8" fill="#222"/>
<rect x="260.5" y="1114.0" width="1.8" height="1.8" fill="#222"/>
<rect x="266.2" y="1138.2" width="1.8" height="1.8" fill="#222"/>
<rect x="360.4" y="1146.0" width="1.8" height="1.8" fill="#222"/>
<rect x="265.8" y="1110.6" width="1.8" height="1.8" fill="#222"/>
<rect x="330.2" y="1117.9" width="1.8" height="1.8" fill="#222"/>
<rect x="351.0" y="1139.6" width="1.8" height="1.8" fill="#222"/>
<rect x="294.6" y="1134.8" width="1.8" height="1.8" fill="#222"/>
<rect x="350.0" y="1129.4" width="1.8" height="1.8" fill="#222"/>
<rect x="349.3" y="1129.2" width="1.8" height="1.8" fill="#222"/>
<rect x="279.8" y="1128.0" width="1.8" height="1.8" fill="#222"/>
<rect x="353.1" y="1108.9" width="1.8" height="1.8" fill="#222"/>
<rect x="315.6" y="1119.6" width="1.8" height="1.8" fill="#222"/>
<rect x="358.3" y="1143.7" width="1.8" height="1.8" fill="#222"/>
<rect x="344.1" y="1098.5" width="1.8" height="1.8" fill="#222"/>
<rect x="350.8" y="1122.7" width="1.8" height="1.8" fill="#222"/>
<rect x="350.0" y="1126.0" width="1.8" height="1.8" fill="#222"/>
<rect x="267.6" y="1114.4" width="1.8" height="1.8" fill="#222"/>
<rect x="278.1" y="1141.7" width="1.8" height="1.8" fill="#222"/>
<rect x="283.5" y="1112.6" width="1.8" height="1.8" fill="#222"/>
<rect x="357.6" y="1110.5" width="1.8" height="1.8" fill="#222"/>
<rect x="258.9" y="1120.6" width="1.8" height="1.8" fill="#222"/>
<rect x="355.9" y="1113.1" width="1.8" height="1.8" fill="#222"/>
<rect x="355.1" y="1126.3" width="1.8" height="1.8" fill="#222"/>
<rect x="322.0" y="1124.7" width="1.8" height="1.8" fill="#222"/>
<rect x="304.0" y="1101.8" width="1.8" height="1.8" fill="#222"/>
<rect x="375.0" y="1142.3" width="1.8" height="1.8" fill="#222"/>
<rect x="312.7" y="1112.9" width="1.8" height="1.8" fill="#222"/>
<rect x="284.6" y="1116.5" width="1.8" height="1.8" fill="#222"/>
<rect x="329.5" y="1114.6" width="1.8" height="1.8" fill="#222"/>
<rect x="350.9" y="1137.2" width="1.8" height="1.8" fill="#222"/>
<rect x="282.9" y="1143.6" width="1.8" height="1.8" fill="#222"/>
<rect x="351.0" y="1102.9" width="1.8" height="1.8" fill="#222"/>
<rect x="282.1" y="1097.5" width="1.8" height="1.8" fill="#222"/>
<rect x="327.1" y="1132.3" width="1.8" height="1.8" fill="#222"/>
<rect x="348.1" y="1106.1" width="1.8" height="1.8" fill="#222"/>
<rect x="317.7" y="1108.2" width="1.8" height="1.8" fill="#222"/>
<rect x="346.0" y="1123.3" width="1.8" height="1.8" fill="#222"/>
<rect x="272.5" y="1105.9" width="1.8" height="1.8" fill="#222"/>
<rect x="358.3" y="1129.4" width="1.8" height="1.8" fill="#222"/>
<rect x="277.0" y="1136.8" width="1.8" height="1.8" fill="#222"/>
<rect x="352.3" y="1127.6" width="1.8" height="1.8" fill="#222"/>
<rect x="377.3" y="1147.3" width="1.8" height="1.8" fill="#222"/>
<rect x="275.6" y="1126.5" width="1.8" height="1.8" fill="#222"/>
<rect x="373.8" y="1130.4" width="1.8" height="1.8" fill="#222"/>
<rect x="328.0" y="1112.8" width="1.8" height="1.8" fill="#222"/>
<rect x="329.6" y="1091.0" width="1.8" height="1.8" fill="#222"/>
<rect x="297.0" y="1092.6" width="1.8" height="1.8" fill="#222"/>
<rect x="264.2" y="1113.9" width="1.8" height="1.8" fill="#222"/>
<rect x="253.7" y="1129.5" width="1.8" height="1.8" fill="#222"/>
<rect x="266.4" y="1125.6" width="1.8" height="1.8" fill="#222"/>
<rect x="280.3" y="1132.7" width="1.8" height="1.8" fill="#222"/>
<rect x="315.5" y="1096.3" width="1.8" height="1.8" fill="#222"/>
<rect x="295.9" y="1131.9" width="1.8" height="1.8" fill="#222"/>
<path d="M284.7,1136.5 V1094 Q284.7,1087 291.7,1087 H334.9 Q341.9,1087 341.9,1094 V1136.5 Z" fill="none" stroke="#111" stroke-width="2.6"/>
<line x1="285" y1="1130.5" x2="341.5" y2="1130.5" stroke="#111" stroke-width="1.6" />
<rect x="286.5" y="1131" width="2" height="5" fill="#111"/>
<rect x="299" y="1131" width="2" height="5" fill="#111"/>
<rect x="312" y="1131" width="2" height="5" fill="#111"/>
<rect x="325" y="1131" width="2" height="5" fill="#111"/>
<rect x="337.5" y="1131" width="2" height="5" fill="#111"/>
<rect x="291.5" y="1109.2" width="44" height="3.2" fill="#111"/>
<rect x="294.5" y="1112.4" width="5" height="3.4" fill="none" stroke="#111" stroke-width="1.2"/>
<rect x="302.5" y="1112.4" width="5" height="3.4" fill="none" stroke="#111" stroke-width="1.2"/>
<rect x="310.5" y="1112.4" width="5" height="3.4" fill="none" stroke="#111" stroke-width="1.2"/>
<rect x="318.5" y="1112.4" width="5" height="3.4" fill="none" stroke="#111" stroke-width="1.2"/>
<rect x="326.5" y="1112.4" width="5" height="3.4" fill="none" stroke="#111" stroke-width="1.2"/>
<circle cx="283.5" cy="1142.5" r="4.1" fill="none" stroke="#999" stroke-width="1.1" stroke-dasharray="1.9 0.9"/>
<circle cx="283.5" cy="1157.5" r="4.1" fill="none" stroke="#999" stroke-width="1.1" stroke-dasharray="1.9 0.9"/>
<circle cx="283.5" cy="1172" r="4.1" fill="none" stroke="#999" stroke-width="1.1" stroke-dasharray="1.9 0.9"/>
<circle cx="283.5" cy="1186.5" r="4.1" fill="none" stroke="#999" stroke-width="1.1" stroke-dasharray="1.9 0.9"/>
<ellipse cx="283.5" cy="1150.4" rx="2.4" ry="3.9" fill="#0c0c0c"/>
<ellipse cx="283.5" cy="1150.4" rx="0.7" ry="1.5" fill="#777"/>
<ellipse cx="283.5" cy="1165" rx="2.4" ry="3.9" fill="#0c0c0c"/>
<ellipse cx="283.5" cy="1165" rx="0.7" ry="1.5" fill="#777"/>
<ellipse cx="283.5" cy="1179.5" rx="2.4" ry="3.9" fill="#0c0c0c"/>
<ellipse cx="283.5" cy="1179.5" rx="0.7" ry="1.5" fill="#777"/>
<circle cx="292.5" cy="1142.5" r="4.1" fill="none" stroke="#999" stroke-width="1.1" stroke-dasharray="1.9 0.9"/>
<circle cx="292.5" cy="1157.5" r="4.1" fill="none" stroke="#999" stroke-width="1.1" stroke-dasharray="1.9 0.9"/>
<circle cx="292.5" cy="1172" r="4.1" fill="none" stroke="#999" stroke-width="1.1" stroke-dasharray="1.9 0.9"/>
<circle cx="292.5" cy="1186.5" r="4.1" fill="none" stroke="#999" stroke-width="1.1" stroke-dasharray="1.9 0.9"/>
<ellipse cx="292.5" cy="1150.4" rx="2.4" ry="3.9" fill="#0c0c0c"/>
<ellipse cx="292.5" cy="1150.4" rx="0.7" ry="1.5" fill="#777"/>
<ellipse cx="292.5" cy="1165" rx="2.4" ry="3.9" fill="#0c0c0c"/>
<ellipse cx="292.5" cy="1165" rx="0.7" ry="1.5" fill="#777"/>
<ellipse cx="292.5" cy="1179.5" rx="2.4" ry="3.9" fill="#0c0c0c"/>
<ellipse cx="292.5" cy="1179.5" rx="0.7" ry="1.5" fill="#777"/>
<circle cx="304.5" cy="1142.5" r="4.1" fill="none" stroke="#999" stroke-width="1.1" stroke-dasharray="1.9 0.9"/>
<circle cx="304.5" cy="1157.5" r="4.1" fill="none" stroke="#999" stroke-width="1.1" stroke-dasharray="1.9 0.9"/>
<circle cx="304.5" cy="1172" r="4.1" fill="none" stroke="#999" stroke-width="1.1" stroke-dasharray="1.9 0.9"/>
<circle cx="304.5" cy="1186.5" r="4.1" fill="none" stroke="#999" stroke-width="1.1" stroke-dasharray="1.9 0.9"/>
<ellipse cx="304.5" cy="1150.4" rx="2.4" ry="3.9" fill="#0c0c0c"/>
<ellipse cx="304.5" cy="1150.4" rx="0.7" ry="1.5" fill="#777"/>
<ellipse cx="304.5" cy="1165" rx="2.4" ry="3.9" fill="#0c0c0c"/>
<ellipse cx="304.5" cy="1165" rx="0.7" ry="1.5" fill="#777"/>
<ellipse cx="304.5" cy="1179.5" rx="2.4" ry="3.9" fill="#0c0c0c"/>
<ellipse cx="304.5" cy="1179.5" rx="0.7" ry="1.5" fill="#777"/>
<circle cx="317.5" cy="1142.5" r="4.1" fill="none" stroke="#999" stroke-width="1.1" stroke-dasharray="1.9 0.9"/>
<circle cx="317.5" cy="1157.5" r="4.1" fill="none" stroke="#999" stroke-width="1.1" stroke-dasharray="1.9 0.9"/>
<circle cx="317.5" cy="1172" r="4.1" fill="none" stroke="#999" stroke-width="1.1" stroke-dasharray="1.9 0.9"/>
<circle cx="317.5" cy="1186.5" r="4.1" fill="none" stroke="#999" stroke-width="1.1" stroke-dasharray="1.9 0.9"/>
<ellipse cx="317.5" cy="1150.4" rx="2.4" ry="3.9" fill="#0c0c0c"/>
<ellipse cx="317.5" cy="1150.4" rx="0.7" ry="1.5" fill="#777"/>
<ellipse cx="317.5" cy="1165" rx="2.4" ry="3.9" fill="#0c0c0c"/>
<ellipse cx="317.5" cy="1165" rx="0.7" ry="1.5" fill="#777"/>
<ellipse cx="317.5" cy="1179.5" rx="2.4" ry="3.9" fill="#0c0c0c"/>
<ellipse cx="317.5" cy="1179.5" rx="0.7" ry="1.5" fill="#777"/>
<circle cx="328.5" cy="1142.5" r="4.1" fill="none" stroke="#999" stroke-width="1.1" stroke-dasharray="1.9 0.9"/>
<circle cx="328.5" cy="1157.5" r="4.1" fill="none" stroke="#999" stroke-width="1.1" stroke-dasharray="1.9 0.9"/>
<circle cx="328.5" cy="1172" r="4.1" fill="none" stroke="#999" stroke-width="1.1" stroke-dasharray="1.9 0.9"/>
<circle cx="328.5" cy="1186.5" r="4.1" fill="none" stroke="#999" stroke-width="1.1" stroke-dasharray="1.9 0.9"/>
<ellipse cx="328.5" cy="1150.4" rx="2.4" ry="3.9" fill="#0c0c0c"/>
<ellipse cx="328.5" cy="1150.4" rx="0.7" ry="1.5" fill="#777"/>
<ellipse cx="328.5" cy="1165" rx="2.4" ry="3.9" fill="#0c0c0c"/>
<ellipse cx="328.5" cy="1165" rx="0.7" ry="1.5" fill="#777"/>
<ellipse cx="328.5" cy="1179.5" rx="2.4" ry="3.9" fill="#0c0c0c"/>
<ellipse cx="328.5" cy="1179.5" rx="0.7" ry="1.5" fill="#777"/>
<circle cx="335" cy="1142.5" r="4.1" fill="none" stroke="#999" stroke-width="1.1" stroke-dasharray="1.9 0.9"/>
<circle cx="335" cy="1157.5" r="4.1" fill="none" stroke="#999" stroke-width="1.1" stroke-dasharray="1.9 0.9"/>
<circle cx="335" cy="1172" r="4.1" fill="none" stroke="#999" stroke-width="1.1" stroke-dasharray="1.9 0.9"/>
<circle cx="335" cy="1186.5" r="4.1" fill="none" stroke="#999" stroke-width="1.1" stroke-dasharray="1.9 0.9"/>
<ellipse cx="335" cy="1150.4" rx="2.4" ry="3.9" fill="#0c0c0c"/>
<ellipse cx="335" cy="1150.4" rx="0.7" ry="1.5" fill="#777"/>
<ellipse cx="335" cy="1165" rx="2.4" ry="3.9" fill="#0c0c0c"/>
<ellipse cx="335" cy="1165" rx="0.7" ry="1.5" fill="#777"/>
<ellipse cx="335" cy="1179.5" rx="2.4" ry="3.9" fill="#0c0c0c"/>
<ellipse cx="335" cy="1179.5" rx="0.7" ry="1.5" fill="#777"/>
<path d="M308.6,1212.2 L300.3,1221.2 A17.1,17.1 0 1 0 327.5,1221.2 L319.2,1212.2" fill="none" stroke="#111" stroke-width="2.2" stroke-linejoin="round"/>
<path d="M308.3,1210.8 V1199.5 L313.9,1194.8 L319.5,1199.5 V1210.8 Z" fill="#1a1a1a"/>
<rect x="308.6" y="1211" width="10.6" height="2.4" fill="#9a9a9a"/>
<path d="M311,1214 L308.5,1232 L311,1236 M316.8,1214 L319.3,1232 L316.8,1236 M310,1222 L317.5,1232 M317.8,1222 L310.3,1232" fill="none" stroke="#ff5a5a" stroke-width="0.9"/>
<line x1="310.4" y1="1301.5" x2="310.4" y2="1259" stroke="#111" stroke-width="1.8" />
<path d="M310.4,1250.0 L312.5,1261.0 L308.3,1261.0 Z" fill="#000"/>
<path d="M295.4,1279.5 C296,1286 302,1287.5 307.4,1287.5 C316,1287.5 321.3,1284 321.3,1280.2 C321.3,1275.5 314,1273.8 307.4,1273.8 C302,1273.8 298.5,1274.6 295,1275.3" fill="none" stroke="#111" stroke-width="1.9"/>
<path d="M291.2,1275.6 L298.2,1273.5 L298.2,1277.7 Z" fill="#000"/>
<circle cx="342.5" cy="1280.6" r="11.7" fill="none" stroke="#6a6a6a" stroke-width="1.6"/>
<g transform="translate(338.2,1286.75) scale(0.4167,0.4167)" fill="none" stroke="#000" stroke-width="7.0" stroke-linejoin="miter"><g transform="translate(0.00,0)"><path d="M3.4,-21.6 C4.4,-26.2 7.6,-27.35 11.0,-27.35 C15.4,-27.35 18.2,-24.6 18.2,-20.6 C18.2,-17.4 16.8,-15.4 13.8,-12.6 L3.8,-2.6" stroke-linejoin="round"/><rect x="0.6" y="-5.8" width="21.3" height="5.8" fill="#000" stroke="none"/></g></g>
<circle cx="367.3" cy="1054.1" r="12.4" fill="none" stroke="#6a6a6a" stroke-width="1.6"/>
<g transform="translate(363.6,1059.8) scale(0.3889,0.3889)" fill="none" stroke="#000" stroke-width="7.2" stroke-linejoin="miter"><g transform="translate(0.00,0)"><path d="M10.35,-30.6 V0"/><path d="M11.35,-28.6 L1.4,-22.6" stroke-width="6.0"/></g></g>
<path d="M696.0,770.5 L725.3,801.7 M714.6,770.5 L743.9,801.7 M733.3,770.5 L762.6,801.7 M751.9,770.5 L781.2,801.7 M770.5,770.5 L799.8,801.7 M789.2,770.5 L818.5,801.7 M807.8,770.5 L837.1,801.7 M826.4,770.5 L855.7,801.7 M845.1,770.5 L874.4,801.7 M863.7,770.5 L893.0,801.7 M882.3,770.5 L911.6,801.7 M900.9,770.5 L930.2,801.7 M919.6,770.5 L948.9,801.7 M938.2,770.5 L967.5,801.7 M956.8,770.5 L986.1,801.7 M975.5,770.5 L1004.8,801.7 M994.1,770.5 L1023.4,801.7 M1012.7,770.5 L1042.0,801.7 M1031.4,770.5 L1060.7,801.7 M1050.0,770.5 L1079.3,801.7 M708,801.7 L1098.7,801.7" fill="none" stroke="#111" stroke-width="2.2" stroke-linecap="round"/>
<path d="M720.1,840.1 V809.5 Q720.1,805.5 723.6,805.5 Q727.1,805.5 727.1,809.5 V840.1" fill="#fff" stroke="#111" stroke-width="1.7"/>
<path d="M719.8000000000001,839.9 Q723.6,843.1 727.4,839.9" fill="none" stroke="#111" stroke-width="2.8"/>
<path d="M720.1,808.9 L716.0,817.9 L720.1,815.9 M727.1,808.9 L731.2,817.9 L727.1,815.9" fill="none" stroke="#111" stroke-width="1.6" stroke-linejoin="round"/>
<path d="M720.1,818.1 L716.0,827.1 L720.1,825.1 M727.1,818.1 L731.2,827.1 L727.1,825.1" fill="none" stroke="#111" stroke-width="1.6" stroke-linejoin="round"/>
<path d="M720.1,827.4 L716.0,836.4 L720.1,834.4 M727.1,827.4 L731.2,836.4 L727.1,834.4" fill="none" stroke="#111" stroke-width="1.6" stroke-linejoin="round"/>
<path d="M794.7,876.5 V844.5 Q794.7,840.5 798.2,840.5 Q801.7,840.5 801.7,844.5 V876.5" fill="#fff" stroke="#111" stroke-width="1.7"/>
<path d="M794.4000000000001,876.3 Q798.2,879.5 802.0,876.3" fill="none" stroke="#111" stroke-width="2.8"/>
<path d="M794.7,844.4 L790.6,853.4 L794.7,851.4 M801.7,844.4 L805.8000000000001,853.4 L801.7,851.4" fill="none" stroke="#111" stroke-width="1.6" stroke-linejoin="round"/>
<path d="M794.7,853.9 L790.6,862.9 L794.7,860.9 M801.7,853.9 L805.8000000000001,862.9 L801.7,860.9" fill="none" stroke="#111" stroke-width="1.6" stroke-linejoin="round"/>
<path d="M794.7,863.6 L790.6,872.6 L794.7,870.6 M801.7,863.6 L805.8000000000001,872.6 L801.7,870.6" fill="none" stroke="#111" stroke-width="1.6" stroke-linejoin="round"/>
<path d="M688.2,841.4 L707,850.8 M816.5,905.6 L830,912.3" stroke="#f2ea00" stroke-width="3.2"/>
<path d="M693,843.8 L699,846.8 M823,908.3 L830,911.8" stroke="#1a1a40" stroke-width="3.6" stroke-linecap="round"/>
<path d="M704.3,850 L711.4,844.6 L819.3,898.9 L819.3,903.6 L811.5,908.5 L811.1,902.4 L711.4,853.6 L704.3,855.7 Z" fill="#fff" stroke="#111" stroke-width="1.9" stroke-linejoin="round"/>
<line x1="711.4" y1="844.6" x2="711.4" y2="853.6" stroke="#111" stroke-width="1.8" />
<line x1="811.1" y1="902.4" x2="819.3" y2="898.9" stroke="#111" stroke-width="1.6" />
<path d="M812,903 L818.5,900 L818.5,903.5 L812,907.5 Z" fill="#333"/>
<path d="M705,851 L710.5,847 L710.5,853 L705,855 Z" fill="#333"/>
<path d="M825,909 L830,911.8" stroke="#222" stroke-width="4" stroke-linecap="round"/>
<path d="M735.6999999999999,861.8 L740.1,864.0" stroke="#111" stroke-width="2.6"/>
<path d="M743.3,865.5 L747.7,867.7" stroke="#111" stroke-width="2.6"/>
<path d="M772.8,880.4 L777.2,882.6" stroke="#111" stroke-width="2.6"/>
<path d="M780.3,884.1 L784.7,886.3000000000001" stroke="#111" stroke-width="2.6"/>
<line x1="723.6" y1="846" x2="723.6" y2="863.6" stroke="#f2ea00" stroke-width="3" />
<line x1="798.2" y1="882.1" x2="798.2" y2="899.6" stroke="#f2ea00" stroke-width="3" />
<line x1="723.6" y1="865.7" x2="723.6" y2="876.8" stroke="#111" stroke-width="3.2" />
<line x1="798.2" y1="901" x2="798.2" y2="911.4" stroke="#111" stroke-width="3.2" />
<line x1="723.7" y1="928.6" x2="723.7" y2="890" stroke="#111" stroke-width="1.8" />
<path d="M723.7,882.3 L726.0,896.3 L721.5,896.3 Z" fill="#1a1a1a"/>
<path d="M716,906.5 C706,907 709.5,917.7 723.7,917.7 C737,917.7 738,907 731,906" fill="none" stroke="#111" stroke-width="1.8"/>
<path d="M713.5,907 L719,903 L719,910 Z" fill="#111"/>
<circle cx="746.1" cy="891" r="12.3" fill="none" stroke="#6a6a6a" stroke-width="1.5"/>
<g transform="translate(742.2,897.5) scale(0.4248,0.4248)" fill="none" stroke="#000" stroke-width="6.2" stroke-linejoin="miter"><g transform="translate(0.00,0)"><path d="M2.2,-27.35 L17.6,-27.35 Q18.6,-27.35 18.0,-26.5 L9.4,-17.2"/><path d="M8.6,-17.6 C15.6,-17.8 19.3,-14.2 19.3,-9.6 C19.3,-4.8 15.4,-3.25 11.0,-3.25 C7.2,-3.25 4.2,-4.6 2.2,-7.2"/></g></g>
<line x1="703.8" y1="859.8" x2="703.8" y2="956.9" stroke="#555" stroke-width="1.6" />
<line x1="810.5" y1="913.2" x2="810.5" y2="956.9" stroke="#555" stroke-width="1.6" />
<line x1="703.8" y1="952.4" x2="727" y2="952.4" stroke="#444" stroke-width="1.7" />
<line x1="783.5" y1="952.4" x2="810.5" y2="952.4" stroke="#444" stroke-width="1.7" />
<path d="M704.5,952.4 L714.5,950.6 L714.5,954.1 Z" fill="#1a1a1a"/>
<path d="M810.0,952.4 L800.0,954.1 L800.0,950.6 Z" fill="#1a1a1a"/>
<g transform="translate(732.1,966.6) scale(0.9902,0.9902)" fill="none" stroke="#000" stroke-width="5.9" stroke-linejoin="miter"><g transform="translate(0.00,0)"><path d="M3.30,-20.90 A8.20,6.40 0 1 0 19.70,-20.90 A8.20,6.40 0 1 0 3.30,-20.90 Z"/><path d="M19.6,-20.5 C19.8,-9.5 15.5,-3.25 10,-3.25 C6.5,-3.25 4,-4.6 2.2,-7.2"/></g><g transform="translate(25.10,0)"><path d="M21.2,-27.35 L7.4,-27.35 L5.8,-13.6"/><path d="M5.2,-15.0 C7.8,-17.4 10.3,-18.0 12.3,-18.0 C17.3,-18.0 19.3,-14.2 19.3,-10.2 C19.3,-5.2 15.8,-3.25 11.6,-3.25 C7.8,-3.25 4.8,-4.8 3.0,-7.4"/></g></g>
<path d="M831.7,802.1 C838,805 843,812 854.5,825.7" fill="none" stroke="#111" stroke-width="2.6"/>
<path d="M863.2,839 C876,856 887,890 889.1,920.7 C890,938 880,955 867.1,965.5" fill="none" stroke="#ff1414" stroke-width="2.2"/>
<path d="M856.9,828 C876,846 898,876 904.8,905 C909,930 898,955 877.3,971.8" fill="none" stroke="#1a4ef2" stroke-width="7.2" stroke-linecap="round"/>
<path d="M857.5,969.5 L866.5,962.5 L875.5,972 L867,979.5 Z" fill="#2a2a2a" stroke="#111" stroke-width="1.5" stroke-linejoin="round"/>
<path d="M853,975 L858,971.5 M862,984 L872,979 L884,972.5 M866,980 L872,986 L885,977" fill="none" stroke="#111" stroke-width="1.4"/>
<path d="M838,987.5 Q840,982 848,981 L860,978" fill="none" stroke="#111" stroke-width="1.6"/>
<rect x="762.3" y="987.5" width="100.9" height="16.5" rx="3" fill="#fff" stroke="#111" stroke-width="2.2"/>
<path d="M945.5,894.2 A88.5,88.5 0 1 1 962.8,956.8" fill="none" stroke="#111" stroke-width="1.7"/>
<path d="M945.5,894.2 L945.5,897 L886.7,967.9 L956,946 L962.8,956.8" fill="none" stroke="#111" stroke-width="1.4" stroke-linejoin="round"/>
<path d="M1033.5,825.5 L1058.7,869 L1008.3,869 Z" fill="none" stroke="#111" stroke-width="2.2" stroke-linejoin="round"/>
<path d="M1033.5,833 L1052.5,865.5 L1014.5,865.5 Z" fill="none" stroke="#111" stroke-width="1.4"/>
<path d="M1008.3,867.8 H1058.7" stroke="#555" stroke-width="3.2"/>
<path d="M1033,840 L1028.5,850 L1034,850 L1031,858 L1034.5,856.5 L1033.5,862 L1036.5,854.5 L1033.5,855.5 L1037,847 L1031.5,847 L1035,840 Z" fill="#111"/>
<rect x="1082" y="846.5" width="7.7" height="21" rx="1.5" fill="#444" stroke="#111" stroke-width="1.6"/>
<line x1="1085.8" y1="849" x2="1085.8" y2="866" stroke="#bbb" stroke-width="1.2" />
<line x1="1085.8" y1="867.5" x2="1085.8" y2="886" stroke="#555" stroke-width="2.2" />
<path d="M1078,878 C1073,879 1076,884 1085.8,884 C1095,884 1097,879 1092,877.5" fill="none" stroke="#111" stroke-width="2.4"/>
<path d="M1075,880 L1080,875 L1081,881 Z" fill="#111"/>
<path d="M961.5,953.5 C975,930 995,912 1026,905" fill="none" stroke="#111" stroke-width="4.6"/>
<path d="M961.5,953.5 C975,930 995,912 1026,905" fill="none" stroke="#fff" stroke-width="1.5"/>
<path d="M973.5,966.5 L1044,924.5" fill="none" stroke="#111" stroke-width="4.6"/>
<path d="M973.5,966.5 L1044,924.5" fill="none" stroke="#fff" stroke-width="1.5"/>
<path d="M973,922.5 C990,926 1012,926 1033,917" fill="none" stroke="#111" stroke-width="2.4"/>
<circle cx="970.5" cy="922.2" r="2.6" fill="#fff" stroke="#111" stroke-width="1.8"/>
<path d="M1062,889 C1085,886 1105,900 1117.5,926" fill="none" stroke="#111" stroke-width="4.4"/>
<path d="M1062,889 C1085,886 1105,900 1117.5,926" fill="none" stroke="#fff" stroke-width="1.4"/>
<path d="M1040,895 C1050,890 1060,888 1075,886" fill="none" stroke="#111" stroke-width="2"/>
<path d="M1028.2,897.5 L1041.7,888.5 L1068,905 L1068,912 L1054.5,921 L1028.2,904.5 Z" fill="#fff" stroke="#111" stroke-width="2.2" stroke-linejoin="round"/>
<path d="M1028.2,897.5 L1054.5,914 L1068,905 M1054.5,914 V921 M1037,903 V910 M1046,908.5 V915.5" fill="none" stroke="#111" stroke-width="1.8"/>
<circle cx="1036.5" cy="896" r="3.1" fill="#fff" stroke="#111" stroke-width="2"/>
<circle cx="1043.2" cy="892.3" r="3.1" fill="#fff" stroke="#111" stroke-width="2"/>
<circle cx="1045.5" cy="902" r="3.1" fill="#fff" stroke="#111" stroke-width="2"/>
<circle cx="1052.2" cy="898.3" r="3.1" fill="#fff" stroke="#111" stroke-width="2"/>
<circle cx="1054.5" cy="908" r="3.1" fill="#fff" stroke="#111" stroke-width="2"/>
<circle cx="1061.2" cy="904.3" r="3.1" fill="#fff" stroke="#111" stroke-width="2"/>
<circle cx="1026" cy="917" r="2.8" fill="#111"/>
<circle cx="1071" cy="887" r="2.8" fill="#111"/>
<path d="M1028,898 L1020,893 M1024,903 L1016,900" stroke="#111" stroke-width="1.2" fill="none"/>
<line x1="1050" y1="888" x2="1065" y2="881" stroke="#111" stroke-width="1.5" />
<line x1="1062" y1="901" x2="1078" y2="893" stroke="#111" stroke-width="1.5" />
<line x1="1010" y1="918" x2="1022" y2="912" stroke="#111" stroke-width="1.5" />
<line x1="1030" y1="935" x2="1046" y2="927" stroke="#111" stroke-width="1.5" />
<line x1="1025" y1="944" x2="1040" y2="937" stroke="#111" stroke-width="1.5" />
<path d="M1048,918 L1052,914 M1051,921 L1055,917 M1060,935 L1064,931 M1063,938 L1067,934" stroke="#111" stroke-width="1.3"/>
<path d="M1022,883 L1019,888 L1024,890 M1006,897 L1003,902 L1008,904" stroke="#111" stroke-width="1.1" fill="none"/>
<circle cx="1077.5" cy="938.2" r="12.0" fill="none" stroke="#6a6a6a" stroke-width="1.6"/>
<g transform="translate(1072,943.5) scale(0.4003,0.4003)" fill="none" stroke="#000" stroke-width="7.6" stroke-linejoin="miter"><g transform="translate(0.00,0)"><path d="M20.6,-30.6 V0"/><path d="M21.5,-28.0 L3.5,-10.2 L26.5,-10.2" stroke-width="6.0"/></g></g>
</svg></body></html>
